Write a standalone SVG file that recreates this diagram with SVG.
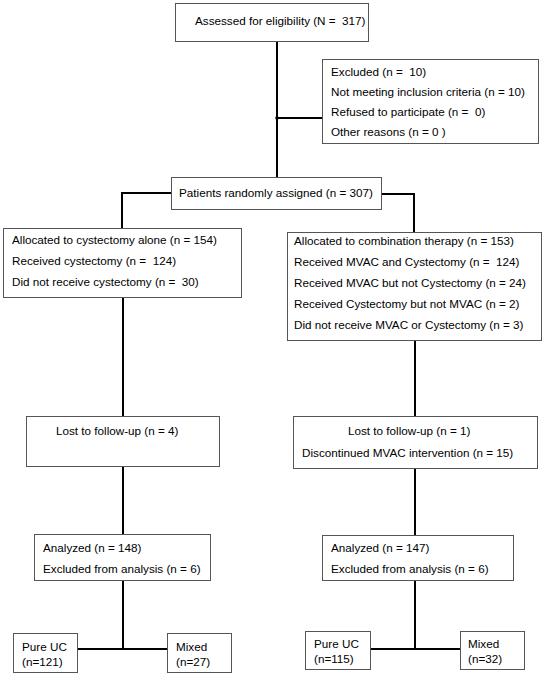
<svg xmlns="http://www.w3.org/2000/svg" width="546" height="674" viewBox="0 0 546 674">
<style>
.box{fill:#fff;stroke:#555;stroke-width:1}
.c{fill:none;stroke:#000;stroke-width:2}
text{font-family:"Liberation Sans",Arial,sans-serif;font-size:11.7px;fill:#000;white-space:pre}
</style>
<rect width="546" height="674" fill="#fff"/>
<g id="connectors">
<path class="c" d="M277 41V177"/>
<path class="c" d="M277 118H322"/>
<circle cx="277" cy="118" r="1.8" fill="#000"/>
<path class="c" d="M171 193H122V228"/>
<path class="c" d="M381 194H414V232"/>
<path class="c" d="M123 297V416M123 466V534M123 580V649M77 649H167"/>
<path class="c" d="M415 340V416M415 468V535M415 580V649M370 649H460"/>
</g>
<g id="n_assessed"><rect class="box" x="175.5" y="3.5" width="193" height="38"/><text x="195" y="25">Assessed for eligibility (N =  317)</text></g>
<g id="n_excluded"><rect class="box" x="322.5" y="59.5" width="216" height="84"/>
<text x="331" y="76">Excluded (n =  10)</text>
<text x="331" y="96">Not meeting inclusion criteria (n = 10)</text>
<text x="331" y="116">Refused to participate (n =  0)</text>
<text x="331" y="136">Other reasons (n = 0 )</text></g>
<g id="n_random"><rect class="box" x="171.5" y="177.5" width="210" height="32"/><text x="179" y="197">Patients randomly assigned (n = 307)</text></g>
<g id="n_alloc_left"><rect class="box" x="3.5" y="228.5" width="238" height="69"/>
<text x="12" y="244">Allocated to cystectomy alone (n = 154)</text>
<text x="12" y="265">Received cystectomy (n =  124)</text>
<text x="12" y="286">Did not receive cystectomy (n =  30)</text></g>
<g id="n_alloc_right"><rect class="box" x="287.5" y="232.5" width="254" height="108"/>
<text x="294" y="245">Allocated to combination therapy (n = 153)</text>
<text x="294" y="266">Received MVAC and Cystectomy (n =  124)</text>
<text x="294" y="287">Received MVAC but not Cystectomy (n = 24)</text>
<text x="294" y="308">Received Cystectomy but not MVAC (n = 2)</text>
<text x="294" y="329">Did not receive MVAC or Cystectomy (n = 3)</text></g>
<g id="n_lost_left"><rect class="box" x="26.5" y="416.5" width="193" height="50"/><text x="56" y="435">Lost to follow-up (n = 4)</text></g>
<g id="n_lost_right"><rect class="box" x="293.5" y="416.5" width="244" height="52"/>
<text x="348" y="435">Lost to follow-up (n = 1)</text>
<text x="302" y="457">Discontinued MVAC intervention (n = 15)</text></g>
<g id="n_an_left"><rect class="box" x="34.5" y="534.5" width="176" height="46"/>
<text x="43" y="552">Analyzed (n = 148)</text>
<text x="43" y="573">Excluded from analysis (n = 6)</text></g>
<g id="n_an_right"><rect class="box" x="322.5" y="535.5" width="191" height="45"/>
<text x="331" y="552">Analyzed (n = 147)</text>
<text x="331" y="573">Excluded from analysis (n = 6)</text></g>
<g id="n_pure_left"><rect class="box" x="13.5" y="633.5" width="64" height="39"/><text x="22" y="651">Pure UC</text><text x="22" y="666">(n=121)</text></g>
<g id="n_mixed_left"><rect class="box" x="167.5" y="633.5" width="64" height="39"/><text x="176" y="651">Mixed</text><text x="176" y="666">(n=27)</text></g>
<g id="n_pure_right"><rect class="box" x="305.5" y="631.5" width="65" height="38"/><text x="314" y="648">Pure UC</text><text x="314" y="663">(n=115)</text></g>
<g id="n_mixed_right"><rect class="box" x="460.5" y="631.5" width="64" height="38"/><text x="468" y="648">Mixed</text><text x="468" y="663">(n=32)</text></g>
</svg>
